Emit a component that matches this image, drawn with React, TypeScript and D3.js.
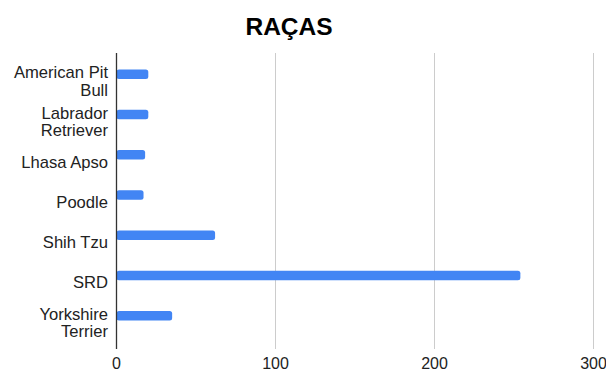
import React from "react";
import * as d3 from "d3";

const categories: string[][] = [
  ["American Pit", "Bull"],
  ["Labrador", "Retriever"],
  ["Lhasa Apso"],
  ["Poodle"],
  ["Shih Tzu"],
  ["SRD"],
  ["Yorkshire", "Terrier"],
];
const values: number[] = [20, 20, 18, 17, 62, 254, 35];
const xTicks: number[] = [0, 100, 200, 300];
const title = "RAÇAS";

const W = 606;
const H = 371;
const FONT = "Arial, 'Liberation Sans', sans-serif";

export default function App() {
  const keys = categories.map((c) => c.join(" "));
  const x = d3.scaleLinear().domain([0, 300]).range([116.5, 593.5]);
  const y = d3.scaleBand<string>().domain(keys).range([54, 336]).padding(0);
  const barH = 9.5;
  const lineH = 17.2;

  return (
    <svg
      width={W}
      height={H}
      style={{ position: "absolute", left: 0, top: 0, display: "block", background: "#fff" }}
      fontFamily={FONT}
    >
      <text x={289} y={35} textAnchor="middle" fontSize={24.5} fontWeight="bold" fill="#000">
        {title}
      </text>
      {xTicks.slice(1).map((t) => (
        <line key={t} x1={x(t)} x2={x(t)} y1={53} y2={349} stroke="#cccccc" strokeWidth={1} />
      ))}
      {keys.map((k, i) => {
        const cy = (y(k) as number) + y.bandwidth() / 2;
        return (
          <rect
            key={k}
            x={x(0)}
            y={cy - barH / 2}
            width={x(values[i]) - x(0)}
            height={barH}
            rx={2.5}
            fill="#4285f4"
          />
        );
      })}
      <line x1={x(0)} x2={x(0)} y1={53} y2={349} stroke="#333333" strokeWidth={1.3} />
      {keys.map((k, i) => {
        const cy = (y(k) as number) + y.bandwidth() / 2 + 7;
        const lines = categories[i];
        const start = cy - ((lines.length - 1) * lineH) / 2;
        return (
          <text key={k} textAnchor="end" fontSize={16.6} fill="#222222">
            {lines.map((l, j) => (
              <tspan key={j} x={108} y={start + j * lineH} dy="0.35em">
                {l}
              </tspan>
            ))}
          </text>
        );
      })}
      {xTicks.map((t) => (
        <text key={t} x={x(t)} y={369} textAnchor="middle" fontSize={16} fill="#222222">
          {t}
        </text>
      ))}
    </svg>
  );
}
